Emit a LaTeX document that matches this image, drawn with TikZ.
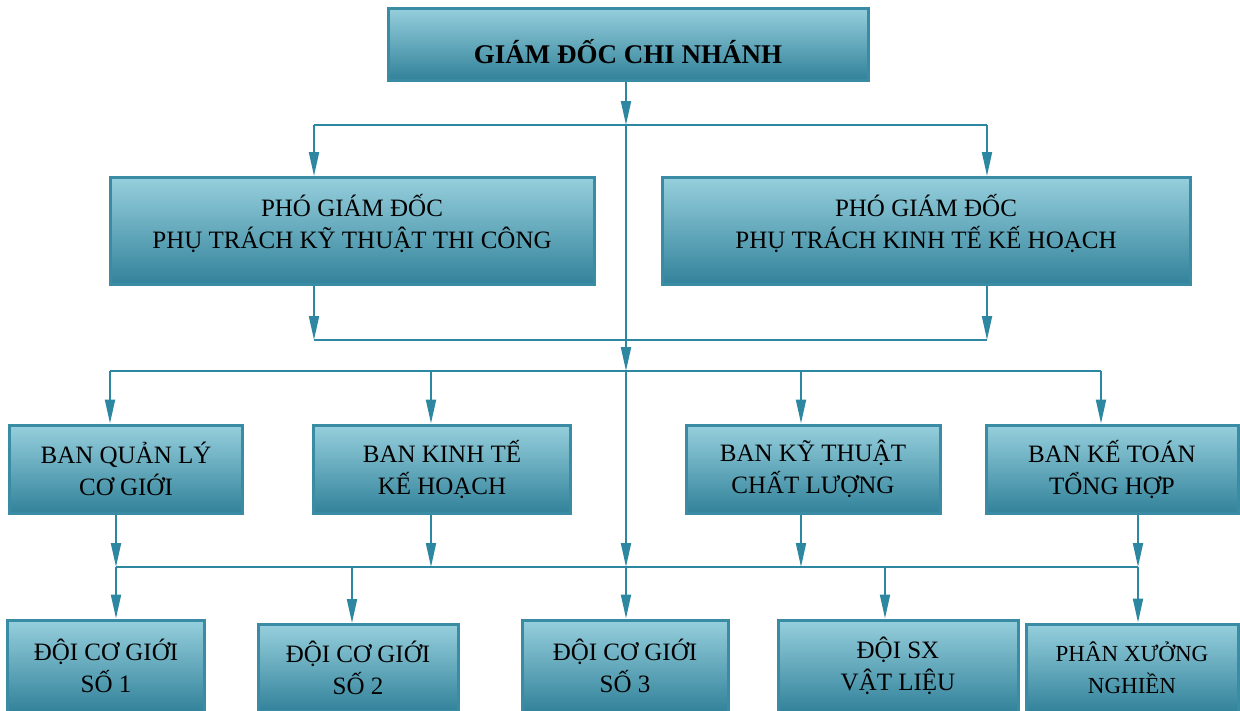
\documentclass[tikz,border=0pt]{standalone}
\usepackage{fontspec}
\setmainfont{Liberation Serif}
\usetikzlibrary{arrows.meta, positioning, calc}
\definecolor{boxtop}{RGB}{150,207,221}
\definecolor{boxbot}{RGB}{50,130,154}
\definecolor{boxline}{RGB}{58,140,164}
\definecolor{linkc}{RGB}{46,135,161}
\tikzset{
    orgbox/.style={rectangle, draw=boxline, line width=3pt, top color=boxtop, bottom color=boxbot, text centered, align=center, inner sep=2pt, font=\fontsize{25}{32}\selectfont},
    link/.style={draw=linkc, line width=2pt},
    arrow/.style={link, -{Triangle[length=24pt, width=10pt]}},
}

\begin{document}
\begin{tikzpicture}[x=1pt, y=-1pt]
\useasboundingbox (0,0) rectangle (1240,710);
\clip (0,0) rectangle (1240,710);

% Top: director
\node[orgbox, minimum width=480pt, minimum height=72pt, text height=40pt, text depth=2pt, font=\fontsize{27}{32}\selectfont\bfseries] (gd) at (628,44) {GIÁM ĐỐC CHI NHÁNH};

% Row 2: deputy directors
\node[orgbox, minimum width=484pt, minimum height=107pt, text depth=19pt] (pgd1) at (352,231) {PHÓ GIÁM ĐỐC\\PHỤ TRÁCH KỸ THUẬT THI CÔNG};
\node[orgbox, minimum width=528pt, minimum height=107pt, text depth=19pt] (pgd2) at (926,231) {PHÓ GIÁM ĐỐC\\PHỤ TRÁCH KINH TẾ KẾ HOẠCH};

% Row 3: departments
\node[orgbox, minimum width=233pt, minimum height=88pt] (ban1) at (126,469) {BAN QUẢN LÝ\\CƠ GIỚI};
\node[orgbox, minimum width=257pt, minimum height=88pt] (ban2) at (442,469) {BAN KINH TẾ\\KẾ HOẠCH};
\node[orgbox, minimum width=254pt, minimum height=88pt] (ban3) at (813,469) {BAN KỸ THUẬT\\CHẤT LƯỢNG};
\node[orgbox, minimum width=252pt, minimum height=88pt] (ban4) at (1112,469) {BAN KẾ TOÁN\\TỔNG HỢP};

% Row 4: teams (cut by the page edge)
\node[orgbox, minimum width=197pt, minimum height=92pt] (doi1) at (106,666) {ĐỘI CƠ GIỚI\\SỐ 1};
\node[orgbox, minimum width=200pt, minimum height=87pt] (doi2) at (358,668) {ĐỘI CƠ GIỚI\\SỐ 2};
\node[orgbox, minimum width=206pt, minimum height=92pt] (doi3) at (625,666) {ĐỘI CƠ GIỚI\\SỐ 3};
\node[orgbox, minimum width=240pt, minimum height=92pt] (doi4) at (898,666) {ĐỘI SX\\VẬT LIỆU};
\node[orgbox, minimum width=212pt, minimum height=88pt, font=\fontsize{23}{32}\selectfont] (doi5) at (1132,668) {PHÂN XƯỞNG\\NGHIỀN};

% Spine
\coordinate (s1) at (626,125);
\coordinate (s2) at (626,371);
\coordinate (s3) at (626,567);
\draw[arrow] (gd.south -| s1) -- (s1);
\draw[arrow] (s1) -- (s2);
\draw[arrow] (s2) -- (s3);

% Director -> deputies
\coordinate (r1l) at (314,125);
\coordinate (r1r) at (987,125);
\draw[link] (r1l) -- (r1r);
\draw[arrow] (r1l) -- (r1l |- pgd1.north);
\draw[arrow] (r1r) -- (r1r |- pgd2.north);

% Deputies -> joint line
\coordinate (m1l) at (314,340);
\coordinate (m1r) at (987,340);
\draw[arrow] (m1l |- pgd1.south) -- (m1l);
\draw[arrow] (m1r |- pgd2.south) -- (m1r);
\draw[link] (m1l) -- (m1r);

% Joint line -> departments
\coordinate (r2l) at (110,371);
\coordinate (r2r) at (1101,371);
\draw[link] (r2l) -- (r2r);
\foreach \xx/\nn in {110/ban1, 431/ban2, 801/ban3, 1101/ban4} {
    \coordinate (b\nn) at (\xx,371);
    \draw[arrow] (b\nn) -- (b\nn |- \nn.north);
}

% Departments -> teams
\foreach \xx/\nn in {116/ban1, 431/ban2, 801/ban3, 1138/ban4} {
    \coordinate (u\nn) at (\xx,567);
    \draw[arrow] (u\nn |- \nn.south) -- (u\nn);
}
\coordinate (r3l) at (116,567);
\coordinate (r3r) at (1138,567);
\draw[link] (r3l) -- (r3r);
\foreach \xx/\nn in {116/doi1, 352/doi2, 626/doi3, 885/doi4, 1138/doi5} {
    \coordinate (d\nn) at (\xx,567);
    \draw[arrow] (d\nn) -- (d\nn |- \nn.north);
}

\end{tikzpicture}
\end{document}
